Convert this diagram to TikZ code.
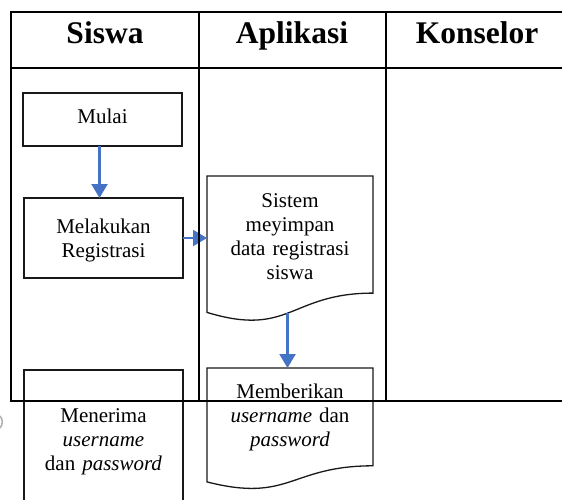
\documentclass[tikz,border=0pt]{standalone}
\usepackage{fontspec}
\setmainfont{Liberation Serif}
\usetikzlibrary{arrows.meta,calc}
\definecolor{flowblue}{HTML}{4472C4}
\begin{document}
\begin{tikzpicture}[x=1pt,y=-1pt,
  tbl/.style={line width=2pt,black,line join=miter},
  shapebox/.style={draw=black!90,line width=1.3pt},
  area/.style={inner sep=0pt,outer sep=0pt},
  flow/.style={draw=flowblue,line width=2.2pt,-{Triangle[length=14pt,width=16pt]}},
  head/.style={font=\fontsize{31.5}{36}\selectfont\bfseries,anchor=base,inner sep=0pt},
  body/.style={font=\fontsize{21}{24.3}\selectfont,anchor=base,inner sep=0pt,text width=170pt,align=center},
]
\useasboundingbox (0,0) rectangle (562,499);

% flow shapes
\node[shapebox,area,minimum width=159pt,minimum height=53pt] (mulai) at (102.5,119.5) {};
\node[shapebox,area,minimum width=159pt,minimum height=80pt] (reg) at (103.5,238) {};
\node[area,minimum width=166pt,minimum height=146pt] (sis) at (290,249) {};
\draw[shapebox] (sis.north west) -- (sis.north east) -- (373,293.1)
  .. controls (290,293.1) and (290,337.7) .. (207,312.4) coordinate[pos=0.52] (sisb) -- cycle;
\node[area,minimum width=166pt,minimum height=122pt] (memb) at (290,429) {};
\draw[shapebox] (memb.north west) -- (memb.north east) -- (373,465.8)
  .. controls (290,465.8) and (290,503.1) .. (207,481.9) -- cycle;
\node[area,minimum width=159pt,minimum height=132pt] (terima) at (103.5,436) {};
\draw[shapebox] (terima.south west) -- (terima.north west) -- (terima.north east) -- (terima.south east);

% texts
\node[body] (tmulai) at (102.5,123.3) {Mulai};
\node[body] (treg) at (103.5,233) {Melakukan\\Registrasi};
\node[body] (tsis) at (290,207) {Sistem\\meyimpan\\data registrasi\\siswa};
\node[body] (tmemb) at (290,398) {Memberikan\\\textit{username} dan\\\textit{password}};
\node[body] (tterima) at (103.5,422) {Menerima\\\textit{username}\\dan \textit{password}};

% headers
\node[head] (hs) at (105,43) {Siswa};
\node[head] (ha) at (292,43) {Aplikasi};
\node[head] (hk) at (477,43) {Konselor};

% connectors
\draw[flow] ([xshift=-3pt]mulai.south) -- ([xshift=-3pt]mulai.south |- reg.north);
\draw[flow] (reg.east) -- (reg.east -| sis.west);
\draw[flow] (sisb) -- (sisb |- memb.north);

% table
\draw[tbl] (562,12) -- (11,12) -- (11,401) -- (562,401);
\draw[tbl] (11,68) -- (562,68);
\draw[tbl] (199,12) -- (199,401);
\draw[tbl] (386,12) -- (386,401);

% small grey mark at the left edge
\draw[black!30,line width=1.6pt] (0,416) .. controls (3,419) and (3,425) .. (0,428);
\end{tikzpicture}
\end{document}
